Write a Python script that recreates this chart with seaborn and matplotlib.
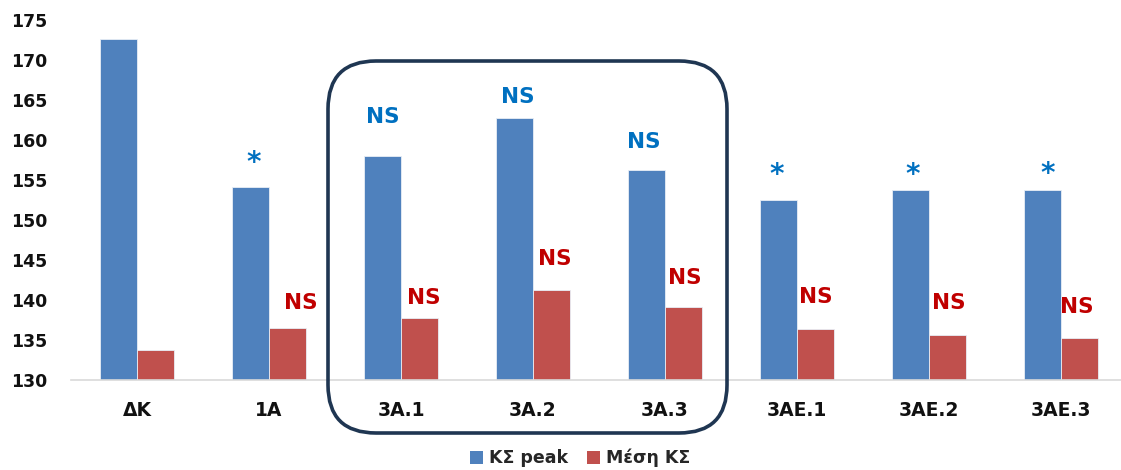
import matplotlib
matplotlib.use("Agg")
import matplotlib.pyplot as plt
from matplotlib.patches import FancyBboxPatch, Patch
from matplotlib.transforms import IdentityTransform
import pandas as pd
import seaborn as sns

# Group labels and the two measured series
groups = ["ΔΚ", "1Α", "3Α.1", "3Α.2", "3Α.3", "3ΑΕ.1", "3ΑΕ.2", "3ΑΕ.3"]
peak = [172.6, 154.1, 158.0, 162.8, 156.3, 152.5, 153.75, 153.75]
mean = [133.75, 136.5, 137.8, 141.25, 139.1, 136.4, 135.6, 135.25]
series_names = ["ΚΣ peak", "Μέση ΚΣ"]

# Significance marks above each bar ("" = none)
peak_marks = ["", "*", "NS", "NS", "NS", "*", "*", "*"]
mean_marks = ["", "NS", "NS", "NS", "NS", "NS", "NS", "NS"]

y_ticks = [130, 135, 140, 145, 150, 155, 160, 165, 170, 175]

# Hand-placed label offsets in pixels (dx, dy above bar top)
peak_offsets = [(0, 0), (3, 24), (0, 39), (3, 21), (-3, 28), (-2, 25), (2, 15), (5, 16)]
mean_offsets = [(0, 0), (13, 25), (4, 20), (3, 31), (1, 29), (0, 32), (1, 32), (-3, 31)]

BLUE = "#4F81BD"
RED = "#C0504D"
MARK_BLUE = "#0070C0"
MARK_RED = "#C00000"
FONT = ["DejaVu Sans"]

sns.set_theme(style="white")
plt.rcParams["font.family"] = FONT
plt.rcParams["font.weight"] = "bold"

df = pd.DataFrame({
    "group": groups * 2,
    "value": peak + mean,
    "series": [series_names[0]] * len(groups) + [series_names[1]] * len(groups),
})

W, H = 1121, 470
fig = plt.figure(figsize=(W / 100, H / 100), dpi=100)
ax = fig.add_axes([71 / W, 90 / H, 1056 / W, 360 / H])

sns.barplot(data=df, x="group", y="value", hue="series", order=groups,
            hue_order=series_names, palette=[BLUE, RED], saturation=1,
            width=0.56, edgecolor="#E8EEF6", linewidth=0.6, legend=False, ax=ax)

ax.set_xlim(-0.5, 7.5)
ax.set_ylim(130, 175)
ax.set_yticks(y_ticks)
ax.set_xlabel("")
ax.set_ylabel("")
ax.tick_params(axis="y", length=0, pad=17, labelsize=12.5)
ax.tick_params(axis="x", length=0, pad=15, labelsize=13.5)
for lab in ax.get_xticklabels() + ax.get_yticklabels():
    lab.set_fontweight("bold")
    lab.set_color("#111111")

for side in ["left", "right", "top"]:
    ax.spines[side].set_visible(False)
ax.spines["bottom"].set_color("#D9D9D9")
ax.spines["bottom"].set_linewidth(1.2)

# Significance labels on the bars
bar_w = 0.28
for i in range(len(groups)):
    for val, mark, off, color, dx in [
        (peak[i], peak_marks[i], peak_offsets[i], MARK_BLUE, -bar_w / 2),
        (mean[i], mean_marks[i], mean_offsets[i], MARK_RED, bar_w / 2),
    ]:
        if not mark:
            continue
        size = 20 if mark == "*" else 15.5
        ax.annotate(mark, xy=(i + dx, val), xytext=off, textcoords="offset pixels",
                    ha="center", va="center", fontsize=size, fontweight="bold",
                    color=color, annotation_clip=False)

# Rounded frame around the 3A groups
frame = FancyBboxPatch((328, H - 433), 399, 372,
                       boxstyle="round,pad=0,rounding_size=48",
                       transform=IdentityTransform(), fill=False,
                       edgecolor="#1F3652", linewidth=2.6, zorder=5)
fig.patches.append(frame)

handles = [Patch(facecolor=BLUE, edgecolor="none"), Patch(facecolor=RED, edgecolor="none")]
fig.legend(handles, series_names, loc="center", bbox_to_anchor=(580 / W, 12 / H),
           ncol=2, frameon=False, handlelength=0.75, handleheight=0.75,
           handletextpad=0.35, columnspacing=1.1,
           prop={"family": FONT, "weight": "bold", "size": 12.5})

fig.savefig("out.png", dpi=100)
